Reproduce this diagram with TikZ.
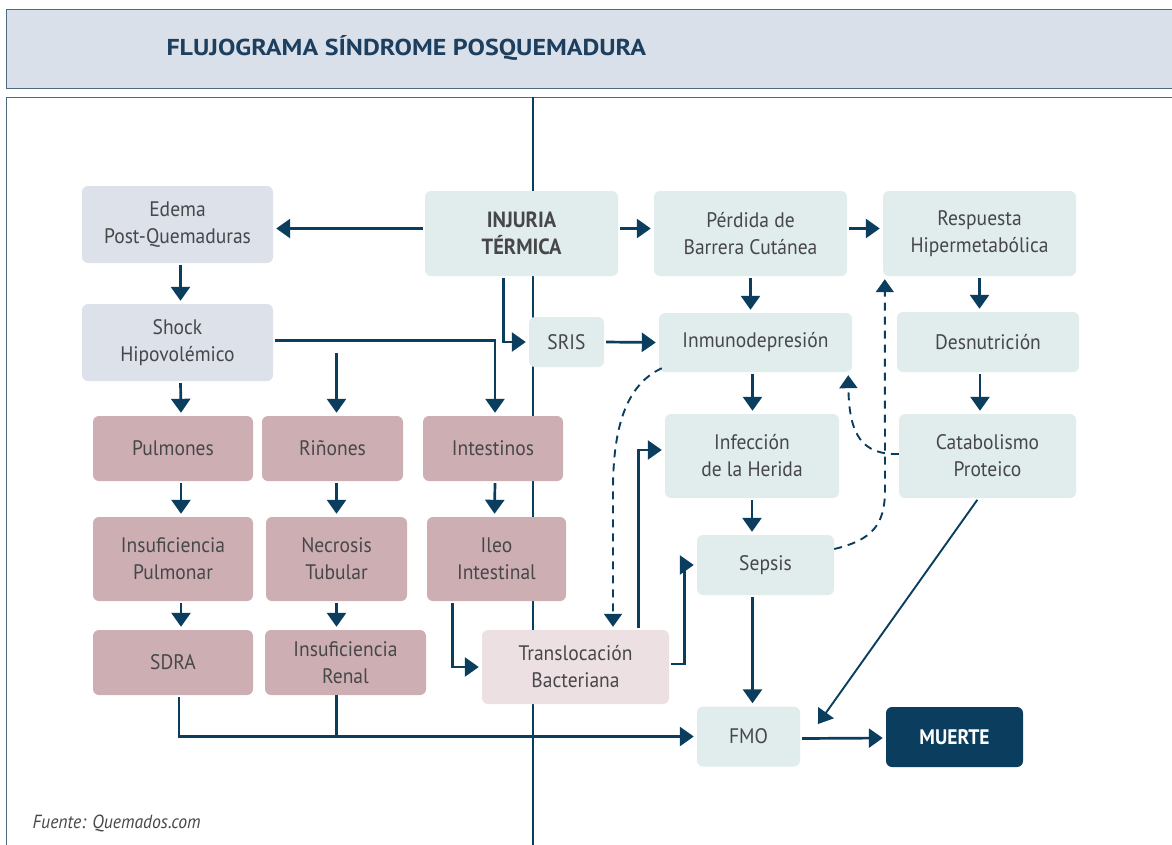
\documentclass[tikz,border=0pt]{standalone}
\usepackage{fontspec}
\setmainfont{PT Sans}[FakeStretch=0.93]
\newfontfamily\titlefont{PT Sans}[FakeStretch=1.13]
\usetikzlibrary{arrows.meta, calc}

\definecolor{navy}{HTML}{0B3D5E}
\definecolor{txtgray}{HTML}{47474A}
\definecolor{titlecol}{HTML}{1D3F5F}
\definecolor{framecol}{HTML}{4D6A80}
\definecolor{titlefill}{HTML}{DAE0E9}
\definecolor{bluefill}{HTML}{DCE1EA}
\definecolor{tealfill}{HTML}{E0EDEC}
\definecolor{rosefill}{HTML}{CDAFB3}
\definecolor{palerose}{HTML}{EDE0E2}

\begin{document}
\begin{tikzpicture}[x=1pt, y=-1pt,
    every node/.style={font=\fontsize{21}{27}\selectfont, text=txtgray, align=center},
    box/.style={rounded corners=6pt, inner sep=0pt},
    bluebox/.style={box, fill=bluefill},
    tealbox/.style={box, fill=tealfill},
    rosebox/.style={box, fill=rosefill},
    arr/.style={draw=navy, line width=2.7pt, -{Triangle[width=19pt,length=14pt]}, shorten >=3pt, shorten <=2pt},
    link/.style={draw=navy, line width=2.7pt},
    dashlink/.style={draw=navy, line width=1.9pt, dash pattern=on 8pt off 6pt,
      -{Triangle[width=18pt,length=13pt]}, shorten >=3pt}]

	\useasboundingbox (0,0) rectangle (1172,844);
	\clip (0,0) rectangle (1172,844);

	% title band and frame
	\draw[draw=framecol, fill=titlefill, line width=1pt] (6,9) rectangle (1185,88);
	\node[anchor=west, font=\fontsize{23}{26}\titlefont\bfseries, text=titlecol] (title) at (163,48) {FLUJOGRAMA SÍNDROME POSQUEMADURA};
	\draw[draw=framecol, line width=1pt] (6,97) rectangle (1185,870);

	\coordinate (spinetop) at (533,97);
	\coordinate (spinebot) at (533,850);
	\draw[link] (spinetop) -- (spinebot);

	% top rows
	\node[bluebox, minimum width=191pt, minimum height=77pt] (edema) at (177.5,224.5) {Edema\\Post-Quemaduras};
	\node[tealbox, minimum width=193pt, minimum height=85pt, font=\fontsize{22}{27}\selectfont\bfseries] (injuria) at (521.5,233.5) {INJURIA\\TÉRMICA};
	\node[tealbox, minimum width=193pt, minimum height=85pt] (perdida) at (750.5,233.5) {Pérdida de\\Barrera Cutánea};
	\node[tealbox, minimum width=193pt, minimum height=85pt] (respuesta) at (979.5,233.5) {Respuesta\\Hipermetabólica};

	\node[bluebox, minimum width=191pt, minimum height=77pt] (shock) at (177.5,342.5) {Shock\\Hipovolémico};
	\node[tealbox, minimum width=75pt, minimum height=50pt] (sris) at (566.5,342) {SRIS};
	\node[tealbox, minimum width=193pt, minimum height=59pt] (inmuno) at (755.5,342.5) {Inmunodepresión};
	\node[tealbox, minimum width=182pt, minimum height=60pt] (desnu) at (988,342) {Desnutrición};

	% organ rows
	\node[rosebox, minimum width=160pt, minimum height=65pt] (pulmones) at (173,448.5) {Pulmones};
	\node[rosebox, minimum width=141pt, minimum height=65pt] (rinones) at (332.5,448.5) {Riñones};
	\node[rosebox, minimum width=140pt, minimum height=65pt] (intestinos) at (493,448.5) {Intestinos};
	\node[tealbox, minimum width=174pt, minimum height=84pt] (infeccion) at (752,456) {Infección\\de la Herida};
	\node[tealbox, minimum width=177pt, minimum height=84pt] (catabol) at (987.5,456) {Catabolismo\\Proteico};

	\node[rosebox, minimum width=160pt, minimum height=84pt] (inspulm) at (173,559) {Insuficiencia\\Pulmonar};
	\node[rosebox, minimum width=141pt, minimum height=84pt] (necrosis) at (336.5,559) {Necrosis\\Tubular};
	\node[rosebox, minimum width=139pt, minimum height=84pt] (ileo) at (496.5,559) {Ileo\\Intestinal};
	\node[tealbox, minimum width=137pt, minimum height=60pt] (sepsis) at (765.5,565) {Sepsis};

	\node[rosebox, minimum width=160pt, minimum height=65pt] (sdra) at (173,662.5) {SDRA};
	\node[rosebox, minimum width=161pt, minimum height=65pt] (insrenal) at (345.5,662.5) {Insuficiencia\\Renal};
	\node[box, fill=palerose, minimum width=187pt, minimum height=74pt] (transloc) at (575.5,667) {Translocación\\Bacteriana};

	\node[tealbox, minimum width=103pt, minimum height=60pt] (fmo) at (748.5,736.5) {FMO};
	\node[box, fill=navy, text=white, minimum width=137pt, minimum height=60pt, font=\fontsize{21}{27}\selectfont\bfseries] (muerte) at (954.5,737) {MUERTE};

	\node[anchor=west, font=\fontsize{19}{22}\selectfont\itshape] (fuente) at (29,823) {Fuente: Quemados.com};

	% arrows
	\draw[arr] ([yshift=5pt]injuria.west) -- ([yshift=5pt]injuria.west -| edema.east);
	\draw[arr] ([yshift=5pt]injuria.east) -- ([yshift=5pt]injuria.east -| perdida.west);
	\draw[arr] ([yshift=5pt]perdida.east) -- ([yshift=5pt]perdida.east -| respuesta.west);
	\draw[arr] ([xshift=-18pt]injuria.south) |- (sris.west);
	\draw[arr] (sris.east) -- (inmuno.west);
	\draw[arr] (perdida.south) -- (perdida.south |- inmuno.north);
	\draw[arr] (respuesta.south) -- (respuesta.south |- desnu.north);
	\draw[arr] ([xshift=-8pt]desnu.south) -- ([xshift=-8pt]desnu.south |- catabol.north);
	\draw[arr] ([xshift=-3pt]inmuno.south) -- ([xshift=-3pt]inmuno.south |- infeccion.north);
	\draw[arr] (infeccion.south) -- (infeccion.south |- sepsis.north);

	\draw[arr] ([xshift=3pt]edema.south) -- ([xshift=3pt]edema.south |- shock.north);
	\draw[arr] ([xshift=3pt]shock.south) -- ([xshift=8pt]pulmones.north);
	\draw[arr] ([xshift=4pt,yshift=-8pt]rinones.north |- shock.east) -- ([xshift=4pt]rinones.north);
	\draw[arr] ([yshift=2pt]shock.east) -| ([xshift=2pt]intestinos.north);

	\draw[arr] ([xshift=8pt]pulmones.south) -- ([xshift=8pt]inspulm.north);
	\draw[arr] ([xshift=4pt]rinones.south) -- (necrosis.north);
	\draw[arr] ([xshift=2pt]intestinos.south) -- ([xshift=-2pt]ileo.north);
	\draw[arr] ([xshift=8pt]inspulm.south) -- ([xshift=8pt]sdra.north);
	\draw[arr] (necrosis.south) -- ([xshift=-9pt]insrenal.north);

	\draw[arr] ([xshift=-44pt]ileo.south) |- (transloc.west);
	\draw[arr] ([xshift=63pt]transloc.north) |- ([yshift=6pt]infeccion.west);
	\draw[arr] ([yshift=3pt]transloc.east) -- ++(15,0) |- (sepsis.west);

	\draw[arr] ([xshift=6pt]sdra.south) |- (fmo.west);
	\draw[link] ([xshift=-9pt]insrenal.south) -- ([xshift=-9pt]insrenal.south |- fmo.west);
	\draw[arr] ([xshift=-13pt]sepsis.south) -- ([xshift=-13pt]sepsis.south |- fmo.north);
	\draw[arr] ([yshift=-2pt]fmo.east) -- ([yshift=-1pt]muerte.west);
	\draw[arr, line width=1.9pt] ([xshift=-9pt]catabol.south) -- ([xshift=16pt,yshift=10pt]fmo.east);

	% feedback (dashed)
	\draw[dashlink] ([yshift=2pt]catabol.west) .. controls (862,455) and (849,435) .. ([xshift=-4pt]inmuno.south east);
	\draw[dashlink] ([yshift=16pt]sepsis.east) .. controls (872,540) and (885,525) .. (885,490) -- ([xshift=2pt]respuesta.south west);
	\draw[dashlink] ([xshift=3pt,yshift=4pt]inmuno.south west) .. controls (625,385) and (613,430) .. (613,490) -- (transloc.north -| 613,0);
\end{tikzpicture}
\end{document}
